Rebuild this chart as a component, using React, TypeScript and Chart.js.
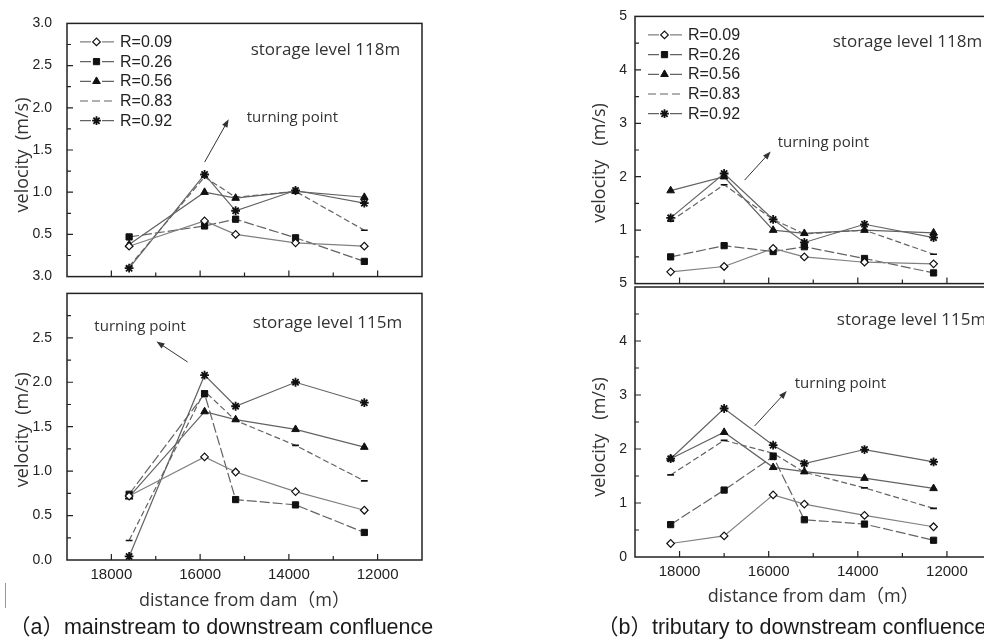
import React, { useEffect, useRef } from 'react';
import { Chart, registerables } from 'chart.js';

Chart.register(...registerables);

// ---------------- data ----------------
const seriesLabels = ['R=0.09', 'R=0.26', 'R=0.56', 'R=0.83', 'R=0.92'];

// distance from dam (m) of the measuring sections
const distMain = [17600, 15900, 15200, 13850, 12300];
const distTrib = [18200, 17000, 15900, 15200, 13850, 12300];

// (a) mainstream, storage level 118m
const main118_R009 = [0.36, 0.66, 0.5, 0.4, 0.36];
const main118_R026 = [0.47, 0.6, 0.68, 0.46, 0.18];
const main118_R056 = [0.38, 1.0, 0.93, 1.01, 0.94];
const main118_R083 = [0.12, 1.18, 0.94, 1.01, 0.55];
const main118_R092 = [0.1, 1.21, 0.78, 1.02, 0.87];

// (a) mainstream, storage level 115m
const main115_R009 = [0.72, 1.16, 0.99, 0.77, 0.56];
const main115_R026 = [0.74, 1.87, 0.68, 0.62, 0.31];
const main115_R056 = [0.71, 1.67, 1.58, 1.47, 1.27];
const main115_R083 = [0.22, 1.9, 1.57, 1.29, 0.89];
const main115_R092 = [0.04, 2.08, 1.73, 2.0, 1.77];

// (b) tributary, storage level 118m
const trib118_R009 = [0.22, 0.32, 0.66, 0.5, 0.4, 0.37];
const trib118_R026 = [0.5, 0.71, 0.6, 0.69, 0.47, 0.2];
const trib118_R056 = [1.74, 2.0, 1.0, 0.94, 1.0, 0.95];
const trib118_R083 = [1.17, 1.85, 1.2, 0.93, 1.0, 0.55];
const trib118_R092 = [1.23, 2.06, 1.2, 0.77, 1.11, 0.86];

// (b) tributary, storage level 115m
const trib115_R009 = [0.25, 0.39, 1.15, 0.98, 0.77, 0.56];
const trib115_R026 = [0.6, 1.24, 1.86, 0.69, 0.61, 0.31];
const trib115_R056 = [1.82, 2.31, 1.66, 1.58, 1.46, 1.27];
const trib115_R083 = [1.52, 2.16, 1.92, 1.57, 1.28, 0.9];
const trib115_R092 = [1.82, 2.75, 2.07, 1.73, 1.99, 1.76];

// ---------------- styles ----------------
const seriesStyle = [
  { point: 'rectRot', radius: 3.8, fill: '#ffffff', line: '#808080', dash: [] as number[], pbw: 1.2 },
  { point: 'rect', radius: 4.4, fill: '#111111', line: '#636363', dash: [10, 3], pbw: 1 },
  { point: 'triangle', radius: 4.4, fill: '#111111', line: '#636363', dash: [] as number[], pbw: 1 },
  { point: 'line', radius: 3.4, fill: '#111111', line: '#636363', dash: [6, 3], pbw: 1.6 },
  { point: 'star', radius: 4.4, fill: '#111111', line: '#636363', dash: [] as number[], pbw: 1.8 },
];

const TICK_FONT = '"Liberation Sans", Arial, sans-serif';
const ANNOT_FONT = '"Open Sans", "Noto Sans CJK SC", sans-serif';
const TEXT_COLOR = '#222222';

// ---------------- panel layout ----------------
const panels = [
  {
    left: 0, top: 0, w: 440, h: 300,
    padding: { top: 16, bottom: 12, left: 0, right: 18 },
    yAxisWidth: 67, yMax: 3, yStep: 0.25, yMajor: 0.5, decimals: 1, yTickPad: 15,
    zeroLabel: '3.0', hideTopLabel: false, showX: false,
    legend: true,
    dist: distMain,
    series: [main118_R009, main118_R026, main118_R056, main118_R083, main118_R092],
    yTitle: 'velocity  (m/s)', yTitleX: 23, yTitleShift: 5,
    storage: { text: 'storage level 118m', x: 14860, y: 2.68 },
    turning: { text: 'turning point', x: 14950, y: 1.886 },
    arrow: { x1: 15898, y1: 1.357, x2: 15356, y2: 1.864 },
  },
  {
    left: 0, top: 270, w: 440, h: 350,
    padding: { top: 18, bottom: 0, left: 0, right: 18 },
    yAxisWidth: 67, yMax: 3, yStep: 0.25, yMajor: 0.5, decimals: 1, yTickPad: 15,
    zeroLabel: '0.0', hideTopLabel: true, showX: true, xAxisHeight: 60, xTitlePad: 8,
    legend: false,
    dist: distMain,
    series: [main115_R009, main115_R026, main115_R056, main115_R083, main115_R092],
    yTitle: 'velocity  (m/s)', yTitleX: 23, yTitleShift: 3,
    storage: { text: 'storage level 115m', x: 14813, y: 2.669 },
    turning: { text: 'turning point', x: 18384, y: 2.625 },
    arrow: { x1: 16282, y1: 2.228, x2: 16983, y2: 2.459 },
  },
  {
    left: 560, top: 0, w: 450, h: 300,
    padding: { top: 16, bottom: 13, left: 0, right: 18.5 },
    yAxisWidth: 75, yMax: 5, yStep: 0.5, yMajor: 1, decimals: 0, yTickPad: 8,
    zeroLabel: '5', hideTopLabel: false, showX: false,
    legend: true,
    dist: distTrib,
    series: [trib118_R009, trib118_R026, trib118_R056, trib118_R083, trib118_R092],
    yTitle: 'velocity   (m/s)', yTitleX: 40, yTitleShift: 13,
    storage: { text: 'storage level 118m', x: 14562, y: 4.52 },
    turning: { text: 'turning point', x: 15798, y: 2.638 },
    arrow: { x1: 16540, y1: 1.937, x2: 15955, y2: 2.472 },
  },
  {
    left: 560, top: 270, w: 450, h: 350,
    padding: { top: 17, bottom: 0, left: 0, right: 18.5 },
    yAxisWidth: 75, yMax: 5, yStep: 0.5, yMajor: 1, decimals: 0, yTickPad: 8,
    zeroLabel: '0', hideTopLabel: true, showX: true, xAxisHeight: 63, xTitlePad: 12,
    legend: false,
    dist: distTrib,
    series: [trib115_R009, trib115_R026, trib115_R056, trib115_R083, trib115_R092],
    yTitle: 'velocity   (m/s)', yTitleX: 40, yTitleShift: 15,
    storage: { text: 'storage level 115m', x: 14472, y: 4.38 },
    turning: { text: 'turning point', x: 15416, y: 3.2 },
    arrow: { x1: 16315, y1: 2.426, x2: 15596, y2: 3.074 },
  },
];

// ---------------- drawing helpers ----------------
function drawMarker(ctx: CanvasRenderingContext2D, style: string, x: number, y: number, r: number, fill: string, bw: number) {
  ctx.save();
  ctx.setLineDash([]);
  ctx.lineWidth = bw;
  ctx.strokeStyle = '#111111';
  ctx.fillStyle = fill;
  ctx.beginPath();
  if (style === 'rectRot') {
    ctx.moveTo(x - r, y); ctx.lineTo(x, y - r); ctx.lineTo(x + r, y); ctx.lineTo(x, y + r); ctx.closePath();
    ctx.fill(); ctx.stroke();
  } else if (style === 'rect') {
    const s = r * Math.SQRT1_2;
    ctx.rect(x - s, y - s, 2 * s, 2 * s);
    ctx.fill(); ctx.stroke();
  } else if (style === 'triangle') {
    for (let k = 0; k < 3; k++) {
      const a = (k * 2 * Math.PI) / 3;
      const px = x + Math.sin(a) * r;
      const py = y - Math.cos(a) * r;
      if (k === 0) ctx.moveTo(px, py); else ctx.lineTo(px, py);
    }
    ctx.closePath();
    ctx.fill(); ctx.stroke();
  } else if (style === 'line') {
    ctx.moveTo(x - r, y); ctx.lineTo(x + r, y);
    ctx.stroke();
  } else if (style === 'star') {
    for (let k = 0; k < 4; k++) {
      const a = (k * Math.PI) / 4;
      ctx.moveTo(x - Math.cos(a) * r, y - Math.sin(a) * r);
      ctx.lineTo(x + Math.cos(a) * r, y + Math.sin(a) * r);
    }
    ctx.stroke();
  }
  ctx.restore();
}

function drawArrow(ctx: CanvasRenderingContext2D, x1: number, y1: number, x2: number, y2: number) {
  ctx.save();
  ctx.strokeStyle = '#333333';
  ctx.fillStyle = '#333333';
  ctx.lineWidth = 1;
  ctx.setLineDash([]);
  const ang = Math.atan2(y2 - y1, x2 - x1);
  const L = 8, W = 3;
  ctx.beginPath();
  ctx.moveTo(x1, y1);
  ctx.lineTo(x2 - Math.cos(ang) * 4, y2 - Math.sin(ang) * 4);
  ctx.stroke();
  ctx.beginPath();
  ctx.moveTo(x2, y2);
  ctx.lineTo(x2 - L * Math.cos(ang) + W * Math.sin(ang), y2 - L * Math.sin(ang) - W * Math.cos(ang));
  ctx.lineTo(x2 - L * Math.cos(ang) - W * Math.sin(ang), y2 - L * Math.sin(ang) + W * Math.cos(ang));
  ctx.closePath();
  ctx.fill();
  ctx.restore();
}

function makeDecor(p: any) {
  return {
    id: 'decor',
    afterDraw(chart: any) {
      const ctx: CanvasRenderingContext2D = chart.ctx;
      const { left, right, top, bottom } = chart.chartArea;
      const xs = chart.scales.x;
      const ys = chart.scales.y;
      ctx.save();
      // frame
      ctx.strokeStyle = '#222222';
      ctx.lineWidth = 1.5;
      ctx.setLineDash([]);
      ctx.strokeRect(left, top, right - left, bottom - top);
      // inward ticks
      ctx.lineWidth = 1.2;
      ctx.beginPath();
      const nY = Math.round(p.yMax / p.yStep);
      for (let k = 1; k < nY; k++) {
        const v = k * p.yStep;
        const major = Math.abs(v / p.yMajor - Math.round(v / p.yMajor)) < 1e-6;
        const py = ys.getPixelForValue(v);
        ctx.moveTo(left, py);
        ctx.lineTo(left + (major ? 6 : 4), py);
      }
      for (let d = 12000; d <= 18000; d += 1000) {
        const major = d % 2000 === 0;
        const px = xs.getPixelForValue(d);
        ctx.moveTo(px, bottom);
        ctx.lineTo(px, bottom - (major ? 6 : 4));
      }
      ctx.stroke();

      // legend
      if (p.legend) {
        chart.data.datasets.forEach((ds: any, i: number) => {
          const st = seriesStyle[i];
          const ly = top + 18.5 + i * 19.7;
          ctx.save();
          ctx.strokeStyle = st.line;
          ctx.lineWidth = 1.2;
          if (st.point === 'line') {
            ctx.setLineDash([8, 4]);
            ctx.beginPath();
            ctx.moveTo(left + 13, ly); ctx.lineTo(left + 47, ly);
            ctx.stroke();
          } else {
            ctx.setLineDash([]);
            ctx.beginPath();
            ctx.moveTo(left + 13, ly); ctx.lineTo(left + 24, ly);
            ctx.moveTo(left + 35, ly); ctx.lineTo(left + 47, ly);
            ctx.stroke();
            drawMarker(ctx, st.point, left + 29.5, ly, st.radius, st.fill, st.pbw);
          }
          ctx.restore();
          ctx.fillStyle = TEXT_COLOR;
          ctx.font = '16px ' + TICK_FONT;
          ctx.textAlign = 'left';
          ctx.textBaseline = 'middle';
          ctx.fillText(ds.label, left + 53, ly + 0.5);
        });
      }

      // annotations
      ctx.fillStyle = '#333333';
      ctx.textAlign = 'left';
      ctx.textBaseline = 'middle';
      ctx.font = '17px ' + ANNOT_FONT;
      ctx.fillText(p.storage.text, xs.getPixelForValue(p.storage.x), ys.getPixelForValue(p.storage.y));
      ctx.font = '15px ' + ANNOT_FONT;
      ctx.fillText(p.turning.text, xs.getPixelForValue(p.turning.x), ys.getPixelForValue(p.turning.y));
      drawArrow(ctx,
        xs.getPixelForValue(p.arrow.x1), ys.getPixelForValue(p.arrow.y1),
        xs.getPixelForValue(p.arrow.x2), ys.getPixelForValue(p.arrow.y2));

      // y-axis title
      ctx.save();
      ctx.translate(p.yTitleX, (top + bottom) / 2 + p.yTitleShift);
      ctx.rotate(-Math.PI / 2);
      ctx.fillStyle = '#333333';
      ctx.font = '18px ' + ANNOT_FONT;
      ctx.textAlign = 'center';
      ctx.textBaseline = 'middle';
      ctx.fillText(p.yTitle, 0, 0);
      ctx.restore();

      ctx.restore();
    },
  };
}

function makeConfig(p: any): any {
  return {
    type: 'line',
    data: {
      datasets: p.series.map((vals: number[], i: number) => {
        const st = seriesStyle[i];
        return {
          label: seriesLabels[i],
          data: p.dist.map((d: number, j: number) => ({ x: d, y: vals[j] })),
          borderColor: st.line,
          borderWidth: 1.2,
          borderDash: st.dash,
          pointStyle: st.point,
          pointRadius: st.radius,
          pointBorderColor: '#111111',
          pointBackgroundColor: st.fill,
          pointBorderWidth: st.pbw,
          tension: 0,
          fill: false,
        };
      }),
    },
    options: {
      responsive: false,
      animation: false,
      events: [],
      layout: { padding: p.padding },
      plugins: { legend: { display: false }, tooltip: { enabled: false } },
      scales: {
        x: {
          type: 'linear',
          reverse: true,
          min: 11000,
          max: 19000,
          display: p.showX,
          afterFit: (s: any) => { if (p.showX) s.height = p.xAxisHeight; },
          grid: { display: false, drawTicks: false },
          border: { display: false },
          ticks: {
            stepSize: 1000,
            autoSkip: false,
            maxRotation: 0,
            padding: 6,
            color: TEXT_COLOR,
            font: { family: TICK_FONT, size: 15 },
            callback: (v: number) => (v % 2000 === 0 && v > 11000 && v < 19000 ? String(v) : ''),
          },
          title: {
            display: true,
            text: 'distance from dam（m）',
            color: '#333333',
            font: { family: ANNOT_FONT, size: 18 },
            padding: { top: 0, bottom: p.xTitlePad || 0 },
          },
        },
        y: {
          type: 'linear',
          min: 0,
          max: p.yMax,
          afterFit: (s: any) => { s.width = p.yAxisWidth; },
          grid: { display: false, drawTicks: false },
          border: { display: false },
          ticks: {
            stepSize: p.yStep,
            autoSkip: false,
            padding: p.yTickPad,
            color: TEXT_COLOR,
            font: { family: TICK_FONT, size: 14 },
            callback: (v: number) => {
              const isMajor = Math.abs(v / p.yMajor - Math.round(v / p.yMajor)) < 1e-6;
              if (!isMajor) return '';
              if (Math.abs(v) < 1e-9) return p.zeroLabel;
              if (p.hideTopLabel && Math.abs(v - p.yMax) < 1e-9) return '';
              return v.toFixed(p.decimals);
            },
          },
        },
      },
    },
    plugins: [makeDecor(p)],
  };
}

function Panel({ def }: { def: any }) {
  const ref = useRef<HTMLCanvasElement | null>(null);
  useEffect(() => {
    if (!ref.current) return;
    const chart = new Chart(ref.current, makeConfig(def));
    return () => chart.destroy();
  }, [def]);
  return (
    <canvas
      ref={ref}
      width={def.w}
      height={def.h}
      style={{ position: 'absolute', left: def.left, top: def.top, width: def.w, height: def.h }}
    />
  );
}

const captionStyle: React.CSSProperties = {
  position: 'absolute',
  top: 616,
  font: '21.5px "Liberation Sans", Arial, "Noto Sans CJK SC", sans-serif',
  lineHeight: '22px',
  color: '#1a1a1a',
  whiteSpace: 'nowrap',
};

export default function App() {
  return (
    <div
      style={{
        position: 'fixed',
        left: 0,
        top: 0,
        width: 984,
        height: 641,
        overflow: 'hidden',
        background: '#ffffff',
      }}
    >
      {panels.map((p, i) => (
        <Panel key={i} def={p} />
      ))}
      <div style={{ position: 'absolute', left: 5, top: 583, width: 1, height: 25, background: '#999999' }} />
      <div style={{ ...captionStyle, left: 9 }}>（a）mainstream to downstream confluence</div>
      <div style={{ ...captionStyle, left: 597 }}>（b）tributary to downstream confluence</div>
    </div>
  );
}
